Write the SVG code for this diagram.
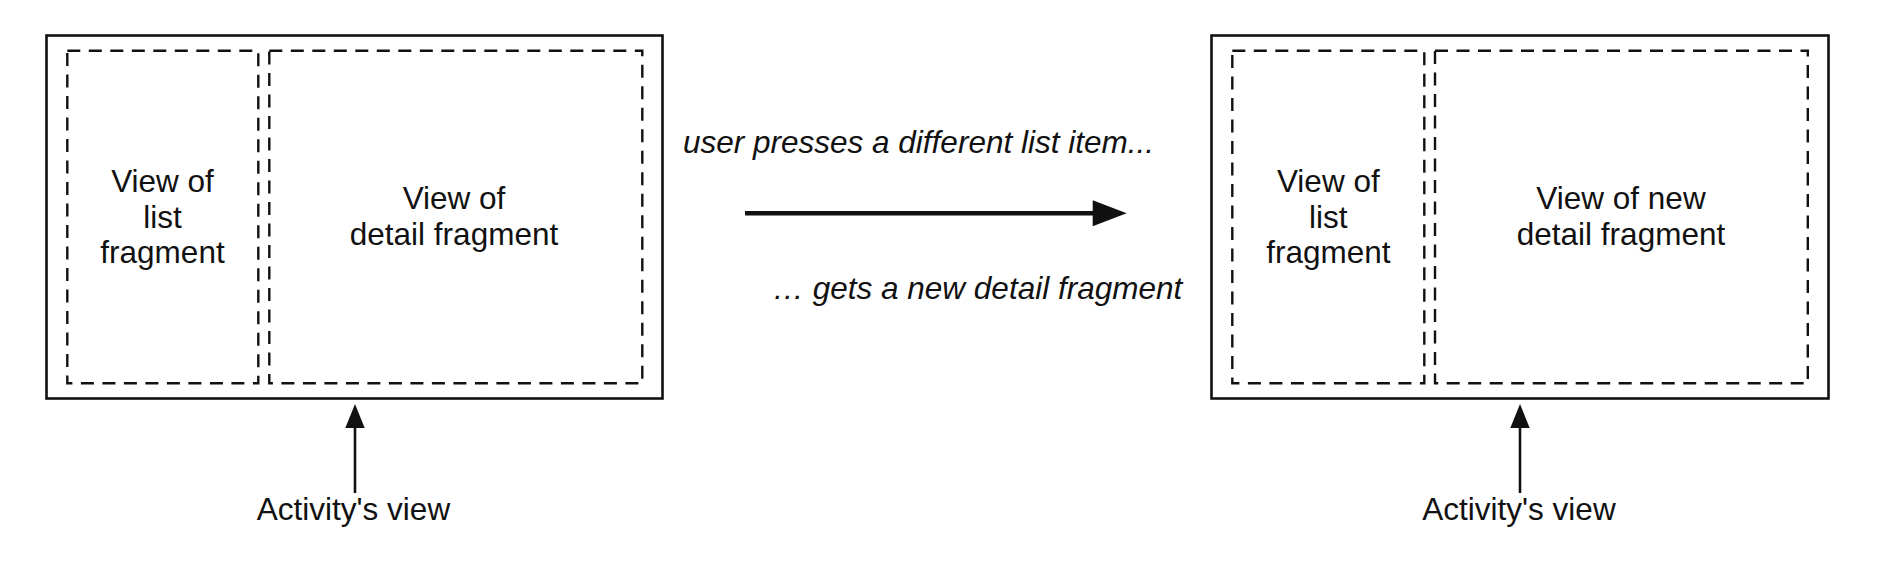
<svg xmlns="http://www.w3.org/2000/svg" width="1892" height="562" viewBox="0 0 1892 562">
<style>
.outer{fill:none;stroke:#111;stroke-width:2.6}
.dash{fill:none;stroke:#111;stroke-width:2.4;stroke-dasharray:13 8.5}
.t{font-family:"Liberation Sans",Arial,sans-serif;font-size:31.5px;fill:#111;text-anchor:middle}
.it{font-family:"Liberation Sans",Arial,sans-serif;font-size:31.5px;fill:#111;font-style:italic}
.ln{stroke:#111;fill:none}
</style>
<rect width="1892" height="562" fill="#fff"/>
<g id="left-activity">
<rect class="outer" x="46.5" y="35.5" width="616" height="363"/>
</g>
<g id="left-list">
<rect class="dash" x="67.3" y="50.7" width="191" height="332.6"/>
<text class="t" x="162.5" y="192">View of</text>
<text class="t" x="162.5" y="227.5">list</text>
<text class="t" x="162.5" y="263">fragment</text>
</g>
<g id="left-detail">
<rect class="dash" x="269.3" y="50.7" width="373" height="332.6"/>
<text class="t" x="454" y="208.5">View of</text>
<text class="t" x="454" y="244.5">detail fragment</text>
</g>
<g id="right-activity">
<rect class="outer" x="1211.5" y="35.5" width="617" height="363"/>
</g>
<g id="right-list">
<rect class="dash" x="1232.3" y="50.7" width="192" height="332.6"/>
<text class="t" x="1328.3" y="192">View of</text>
<text class="t" x="1328.3" y="227.5">list</text>
<text class="t" x="1328.3" y="263">fragment</text>
</g>
<g id="right-detail">
<rect class="dash" x="1435" y="50.7" width="372.8" height="332.6"/>
<text class="t" x="1621" y="208.5">View of new</text>
<text class="t" x="1621" y="244.5">detail fragment</text>
</g>
<g id="left-label">
<text class="t" x="353.5" y="520">Activity's view</text>
</g>
<g id="right-label">
<text class="t" x="1519" y="520">Activity's view</text>
</g>
<g id="transition-labels">
<text class="it" x="683" y="153">user presses a different list item...</text>
<text class="it" x="772.5" y="299">… gets a new detail fragment</text>
</g>
<g id="connectors">
<line class="ln" x1="355" y1="493" x2="355" y2="425" stroke-width="2.6"/>
<path d="M345.3,428 L355,404 L364.7,428 Z" fill="#111"/>
<line class="ln" x1="1520" y1="493" x2="1520" y2="425" stroke-width="2.6"/>
<path d="M1510.3,428 L1520,404 L1529.7,428 Z" fill="#111"/>
<line class="ln" x1="745" y1="213.3" x2="1096" y2="213.3" stroke-width="4.5"/>
<path d="M1092.7,200.3 L1126.7,213.3 L1092.7,226.3 Z" fill="#111"/>
</g>
</svg>
